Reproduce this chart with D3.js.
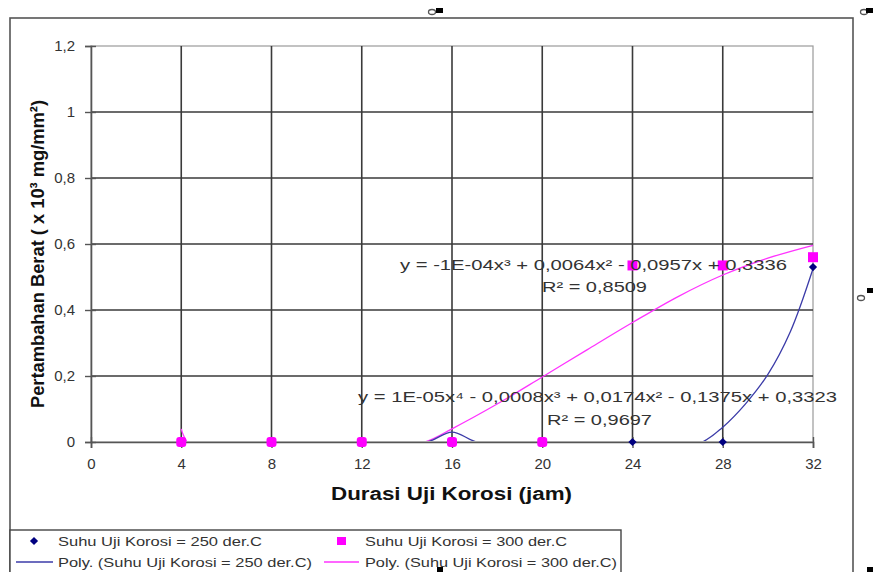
<!DOCTYPE html>
<html>
<head>
<meta charset="utf-8">
<script src="https://cdn.jsdelivr.net/npm/d3@7"></script>
<style>
  body { margin: 0; background: #fff; }
  svg { display: block; font-family: "Liberation Sans", Arial, sans-serif; }
</style>
</head>
<body>
<script>
// durations (jam) and weight gain (x 10^-3 mg/mm2)
const durations = [4, 8, 12, 16, 20, 24, 28, 32];
const suhu250 = [0, 0, 0, 0, 0, 0, 0, 0.53];
const suhu300 = [0, 0, 0, 0, 0, 0.535, 0.535, 0.56];

// trendlines (clipped to the plot, as in Excel)
const trend250x = [4, 8, 11, 13, 14.9, 16, 17.1, 18.5, 21, 24, 27.1, 28, 29, 30, 31, 32];
const trend250y = [-0.06, -0.03, -0.004, -0.01, 0, 0.03, 0, -0.004, -0.05, -0.06, 0, 0.045, 0.115, 0.205, 0.335, 0.525];
const trend300x = [4, 4.4, 8, 12, 14.8, 16, 18, 20, 22, 24, 26, 28, 30, 32];
const trend300y = [0.04, -0.01, -0.06, -0.04, 0, 0.04, 0.115, 0.197, 0.28, 0.362, 0.44, 0.506, 0.557, 0.596];

const xTicks = [0, 4, 8, 12, 16, 20, 24, 28, 32];
const yTicks = [0, 0.2, 0.4, 0.6, 0.8, 1, 1.2];

const W = 873, H = 572;
const plot = { left: 91, right: 813, top: 46, bottom: 442 };

const svg = d3.select('body').append('svg')
    .attr('width', W)
    .attr('height', H);

const x = d3.scaleLinear().domain([0, 32]).range([plot.left, plot.right]);
const y = d3.scaleLinear().domain([0, 1.2]).range([plot.bottom, plot.top]);
const fmt = d => String(+d.toFixed(1)).replace('.', ',');

// outer chart frame
svg.append('rect')
    .attr('x', 10).attr('y', 18)
    .attr('width', 843).attr('height', 570)
    .attr('fill', 'none').attr('stroke', '#555').attr('stroke-width', 1.6);

// plot border (light)
svg.append('rect')
    .attr('x', plot.left).attr('y', plot.top)
    .attr('width', plot.right - plot.left).attr('height', plot.bottom - plot.top)
    .attr('fill', 'none').attr('stroke', '#9a9a9a').attr('stroke-width', 1.2);

// gridlines
svg.append('g').selectAll('line').data(yTicks.filter(d => d > 0 && d < 1.2))
    .join('line')
    .attr('x1', plot.left).attr('x2', plot.right)
    .attr('y1', d => y(d)).attr('y2', d => y(d))
    .attr('stroke', '#3a3a3a').attr('stroke-width', 1.5);

svg.append('g').selectAll('line').data(xTicks.filter(d => d > 0 && d < 32))
    .join('line')
    .attr('x1', d => x(d)).attr('x2', d => x(d))
    .attr('y1', plot.top).attr('y2', plot.bottom)
    .attr('stroke', '#3a3a3a').attr('stroke-width', 1.6);

// axes
const yAxis = svg.append('g')
    .attr('transform', `translate(${plot.left},0)`)
    .call(d3.axisLeft(y).tickValues(yTicks).tickFormat(fmt).tickSize(6).tickPadding(10));
const xAxis = svg.append('g')
    .attr('transform', `translate(0,${plot.bottom})`)
    .call(d3.axisBottom(x).tickValues(xTicks).tickFormat(fmt).tickSize(6).tickPadding(10));

[yAxis, xAxis].forEach(g => {
    g.select('.domain').attr('stroke', '#555').attr('stroke-width', 1.6);
    g.selectAll('.tick line').attr('stroke', '#555').attr('stroke-width', 1.4);
    g.selectAll('.tick text')
        .attr('fill', '#333')
        .style('font-size', '15px')
        .style('font-family', '"Liberation Sans", Arial, sans-serif');
});
yAxis.selectAll('.tick line').attr('x1', 5);
xAxis.selectAll('.tick line').attr('y1', -5);
yAxis.selectAll('.tick text').attr('x', -16);
xAxis.selectAll('.tick text').attr('dy', '0.75em');

// trendlines
svg.append('clipPath').attr('id', 'plotclip')
    .append('rect')
    .attr('x', plot.left).attr('y', plot.top - 2)
    .attr('width', plot.right - plot.left + 1).attr('height', plot.bottom - plot.top + 1);

const line = d3.line().x(d => x(d[0])).y(d => y(d[1])).curve(d3.curveCatmullRom.alpha(0.5));
const trend250 = trend250x.map((v, i) => [v, trend250y[i]]);
const trend300 = trend300x.map((v, i) => [v, trend300y[i]]);

svg.append('path').datum(trend300)
    .attr('clip-path', 'url(#plotclip)')
    .attr('d', line)
    .attr('fill', 'none').attr('stroke', '#ff33ff').attr('stroke-width', 1.3);
svg.append('path').datum(trend250)
    .attr('clip-path', 'url(#plotclip)')
    .attr('d', line)
    .attr('fill', 'none').attr('stroke', '#3b3ba8').attr('stroke-width', 1.3);

// markers
const diamond = d3.symbol().type(d3.symbolSquare).size(34);
svg.append('g').selectAll('path').data(durations)
    .join('path')
    .attr('d', diamond)
    .attr('transform', (d, i) => `translate(${x(d)},${y(suhu250[i])}) rotate(45)`)
    .attr('fill', '#000080');

svg.append('g').selectAll('rect').data(durations)
    .join('rect')
    .attr('x', d => x(d) - 5)
    .attr('y', (d, i) => y(suhu300[i]) - 5)
    .attr('width', 10).attr('height', 10)
    .attr('rx', (d, i) => suhu300[i] === 0 ? 3 : 0)
    .attr('fill', '#ff00ff');

// trendline equations
const eqs = [
    { text: 'y = -1E-04x³ + 0,0064x² - 0,0957x + 0,3336', x: 400, y: 270, len: 387 },
    { text: 'R² = 0,8509', x: 542, y: 292, len: 105 },
    { text: 'y = 1E-05x⁴ - 0,0008x³ + 0,0174x² - 0,1375x + 0,3323', x: 358, y: 402, len: 479 },
    { text: 'R² = 0,9697', x: 547, y: 425, len: 105 }
];
svg.append('g').selectAll('text').data(eqs)
    .join('text')
    .attr('x', d => d.x).attr('y', d => d.y)
    .attr('textLength', d => d.len)
    .attr('lengthAdjust', 'spacingAndGlyphs')
    .attr('fill', '#333')
    .style('font-size', '15px')
    .text(d => d.text);

// axis titles
svg.append('text')
    .attr('x', 331).attr('y', 500)
    .attr('textLength', 241)
    .attr('lengthAdjust', 'spacingAndGlyphs')
    .attr('font-weight', 'bold')
    .style('font-size', '18px')
    .attr('fill', '#111')
    .text('Durasi Uji Korosi (jam)');

svg.append('text')
    .attr('transform', 'translate(44,408) rotate(-90)')
    .attr('textLength', 308)
    .attr('lengthAdjust', 'spacingAndGlyphs')
    .attr('font-weight', 'bold')
    .style('font-size', '19px')
    .style('font-family', '"Liberation Sans Narrow", "Arial Narrow", "Liberation Sans", sans-serif')
    .attr('fill', '#111')
    .text('Pertambahan Berat ( x 10³ mg/mm²)');

// legend
const legend = svg.append('g');
legend.append('rect')
    .attr('x', 10).attr('y', 530)
    .attr('width', 611).attr('height', 60)
    .attr('fill', '#fff').attr('stroke', '#444').attr('stroke-width', 1.4);

legend.append('path').attr('d', diamond).attr('transform', 'translate(34,541) rotate(45)').attr('fill', '#000080');
legend.append('rect').attr('x', 337).attr('y', 537).attr('width', 9).attr('height', 8).attr('fill', '#ff00ff');
legend.append('line').attr('x1', 16).attr('x2', 53).attr('y1', 562).attr('y2', 562)
    .attr('stroke', '#3b3ba8').attr('stroke-width', 1.3);
legend.append('line').attr('x1', 324).attr('x2', 359).attr('y1', 562).attr('y2', 562)
    .attr('stroke', '#ff33ff').attr('stroke-width', 1.3);

const legendItems = [
    { text: 'Suhu Uji Korosi = 250 der.C', x: 58, y: 546, len: 204 },
    { text: 'Suhu Uji Korosi = 300 der.C', x: 365, y: 546, len: 202 },
    { text: 'Poly. (Suhu Uji Korosi = 250 der.C)', x: 58, y: 567, len: 254 },
    { text: 'Poly. (Suhu Uji Korosi = 300 der.C)', x: 365, y: 567, len: 252 }
];
legend.selectAll('text.item').data(legendItems)
    .join('text')
    .attr('class', 'item')
    .attr('x', d => d.x).attr('y', d => d.y)
    .attr('textLength', d => d.len)
    .attr('lengthAdjust', 'spacingAndGlyphs')
    .attr('fill', '#333')
    .style('font-size', '13px')
    .text(d => d.text);

// selection handles left on the original screenshot
const handles = [
    { rx: 432, ry: 12, bx: 436, by: 8 },
    { rx: 864, ry: 12, bx: 866, by: 8 },
    { rx: 861, ry: 298, bx: 867, by: 288 }
];
handles.forEach(h => {
    svg.append('ellipse').attr('cx', h.rx).attr('cy', h.ry).attr('rx', 3.5).attr('ry', 2.5)
        .attr('fill', 'none').attr('stroke', '#555').attr('stroke-width', 1.3);
    svg.append('rect').attr('x', h.bx).attr('y', h.by).attr('width', 7).attr('height', 5).attr('fill', '#000');
});
svg.append('rect').attr('x', 437).attr('y', 567).attr('width', 6).attr('height', 6).attr('fill', '#000');
svg.append('rect').attr('x', 867).attr('y', 567).attr('width', 6).attr('height', 6).attr('fill', '#000');
</script>
</body>
</html>
